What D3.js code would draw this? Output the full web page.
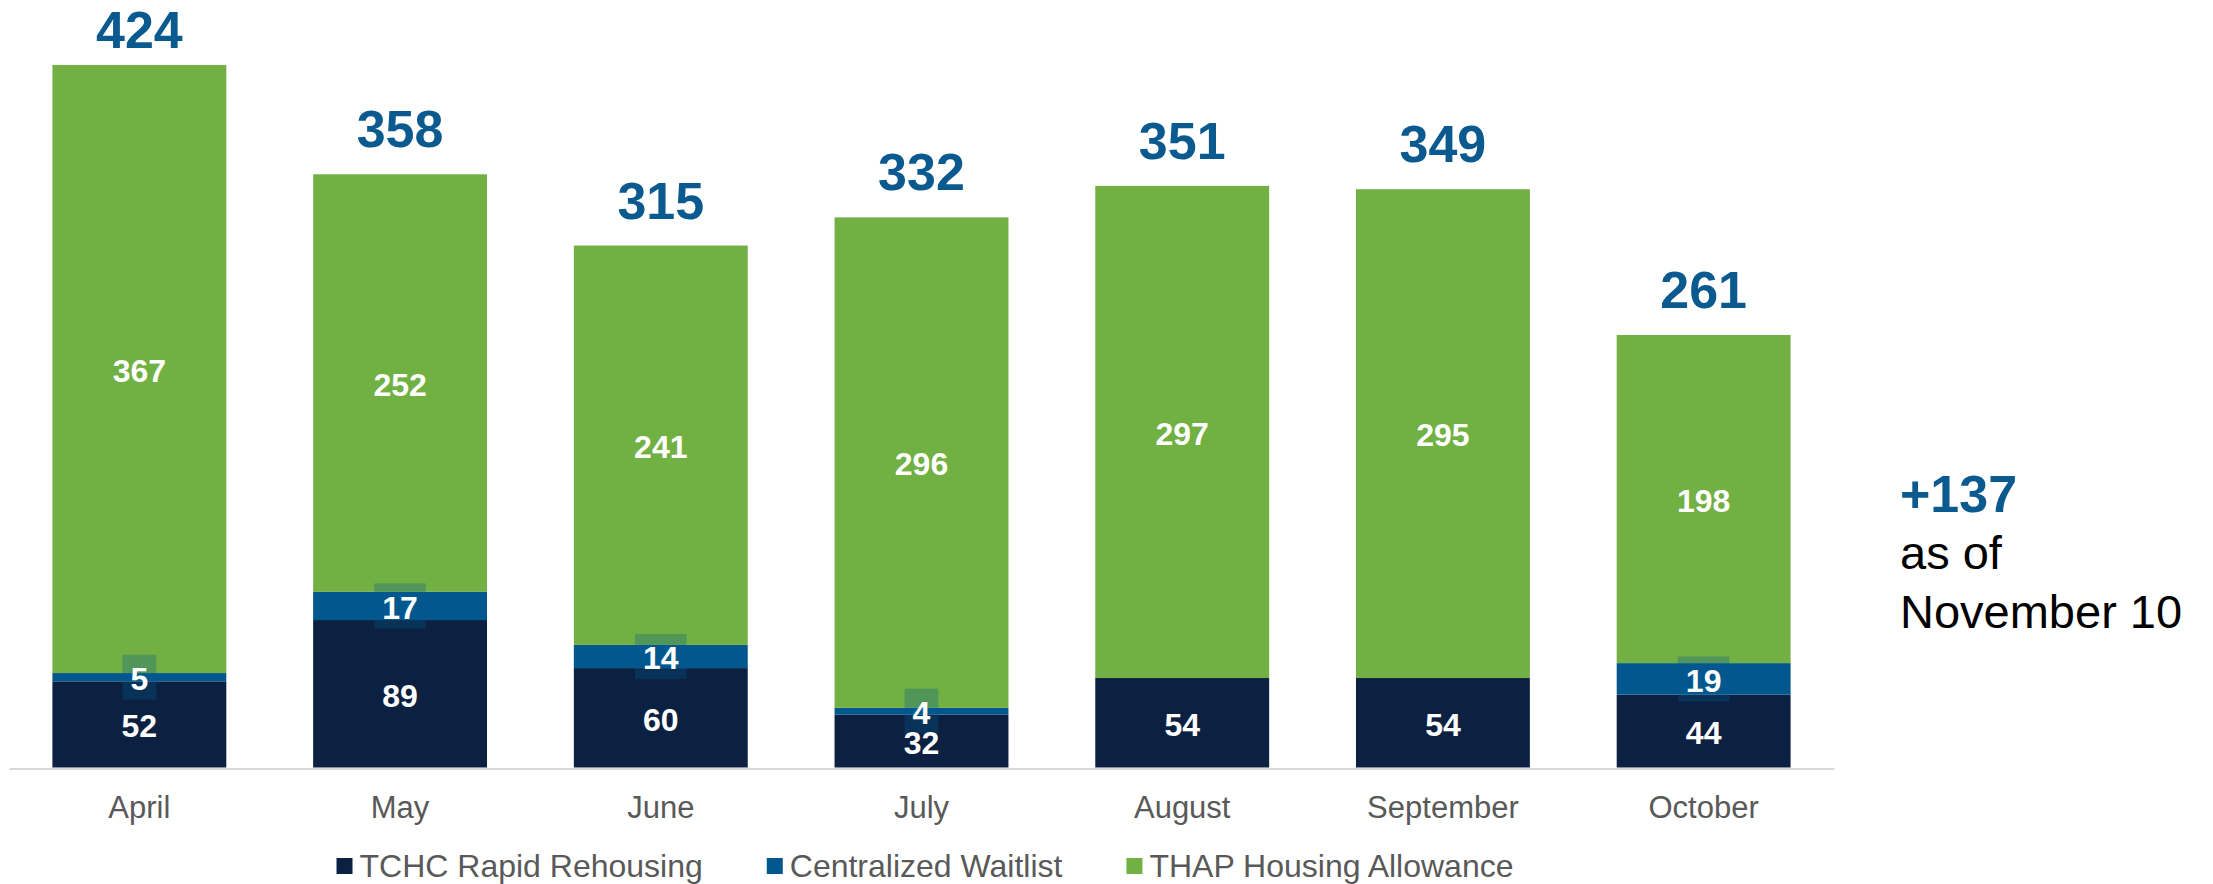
<!DOCTYPE html>
<html>
<head>
<meta charset="utf-8">
<script src="https://cdn.jsdelivr.net/npm/d3@7"></script>
<style>
  html, body { margin: 0; padding: 0; background: #fff; }
  svg { display: block; font-family: "Liberation Sans", Arial, sans-serif; }
</style>
</head>
<body>
<svg id="chart" width="2213" height="884"></svg>
<script>
const months = ["April", "May", "June", "July", "August", "September", "October"];
const tchcRapid = [52, 89, 60, 32, 54, 54, 44];
const centralizedWaitlist = [5, 17, 14, 4, 0, 0, 19];
const thapAllowance = [367, 252, 241, 296, 297, 295, 198];
const seriesNames = ["TCHC Rapid Rehousing", "Centralized Waitlist", "THAP Housing Allowance"];
const seriesColors = ["#0C2141", "#02588E", "#72B043"];
const noteLines = ["+137", "as of", "November 10"];

const svg = d3.select("#chart");
const baseY = 767.5;

const rows = months.map((m, i) => ({
  month: m,
  s0: tchcRapid[i],
  s1: centralizedWaitlist[i],
  s2: thapAllowance[i]
}));
const keys = ["s0", "s1", "s2"];
const stacked = d3.stack().keys(keys)(rows);

const x = d3.scaleBand().domain(months).range([9, 1834])
  .paddingInner(0.333).paddingOuter(0.1665);
const y = d3.scaleLinear().domain([0, 450]).range([baseY, baseY - 450 * 1.657]);

// bars
const gBars = svg.append("g");
stacked.forEach((layer, si) => {
  gBars.selectAll(null).data(layer.filter(d => d[1] - d[0] > 0)).join("rect")
    .attr("x", d => x(d.data.month))
    .attr("width", x.bandwidth())
    .attr("y", d => y(d[1]))
    .attr("height", d => y(d[0]) - y(d[1]))
    .attr("fill", seriesColors[si]);
});

// axis
const gAxis = svg.append("g").attr("transform", `translate(0,${baseY + 1})`)
  .call(d3.axisBottom(x).tickSize(0).tickSizeOuter(0));
gAxis.select(".domain").attr("stroke", "#D9D9D9").attr("stroke-width", 2);
gAxis.selectAll("text")
  .attr("y", 49).attr("dy", "0")
  .attr("font-size", 31)
  .attr("font-family", "Liberation Sans, Arial, sans-serif")
  .attr("fill", "#595959");

// segment labels with translucent boxes
const labelSize = 32;
const gBoxes = svg.append("g");
const gLabels = svg.append("g");
stacked.forEach((layer, si) => {
  layer.filter(d => d[1] - d[0] > 0).forEach(d => {
    const cx = x(d.data.month) + x.bandwidth() / 2;
    const cy = (y(d[0]) + y(d[1])) / 2;
    const val = d[1] - d[0];
    const t = gLabels.append("text")
      .attr("x", cx).attr("y", cy).attr("dy", "0.4em")
      .attr("text-anchor", "middle")
      .attr("font-size", labelSize).attr("font-weight", "bold")
      .attr("fill", "#FFFFFF")
      .text(val);
    const w = t.node().getComputedTextLength();
    gBoxes.append("rect")
      .attr("x", cx - w / 2 - 8).attr("width", w + 16)
      .attr("y", cy - 22.5).attr("height", 45)
      .attr("fill", seriesColors[si]).attr("fill-opacity", 0.3);
  });
});

// totals
const totals = rows.map(r => r.s0 + r.s1 + r.s2);
svg.append("g").selectAll("text").data(rows).join("text")
  .attr("x", d => x(d.month) + x.bandwidth() / 2)
  .attr("y", (d, i) => Math.max(y(totals[i]) - 27, 48))
  .attr("text-anchor", "middle")
  .attr("font-size", 52).attr("font-weight", "bold")
  .attr("fill", "#0B5A8F")
  .text((d, i) => totals[i]);

// legend
const legend = svg.append("g");
const itemGap = 64, sq = 16, sqGap = 7;
const items = seriesNames.map((name, i) => {
  const g = legend.append("g");
  g.append("rect").attr("width", sq).attr("height", sq).attr("y", -8).attr("fill", seriesColors[i]);
  const t = g.append("text").attr("x", sq + sqGap).attr("dy", "0.35em")
    .attr("font-size", 32).attr("fill", "#595959").text(name);
  return { g, w: sq + sqGap + t.node().getComputedTextLength() };
});
const totalW = d3.sum(items, d => d.w) + itemGap * (items.length - 1);
let lx = 925 - totalW / 2;
items.forEach(it => {
  it.g.attr("transform", `translate(${lx},866)`);
  lx += it.w + itemGap;
});

// side note
const note = svg.append("g").attr("transform", "translate(1900,0)");
note.append("text").attr("y", 512).attr("font-size", 52).attr("font-weight", "bold")
  .attr("fill", "#0B5A8F").text(noteLines[0]);
note.append("text").attr("y", 569).attr("font-size", 47).attr("fill", "#000").text(noteLines[1]);
note.append("text").attr("y", 628).attr("font-size", 47).attr("fill", "#000").text(noteLines[2]);
</script>
</body>
</html>
